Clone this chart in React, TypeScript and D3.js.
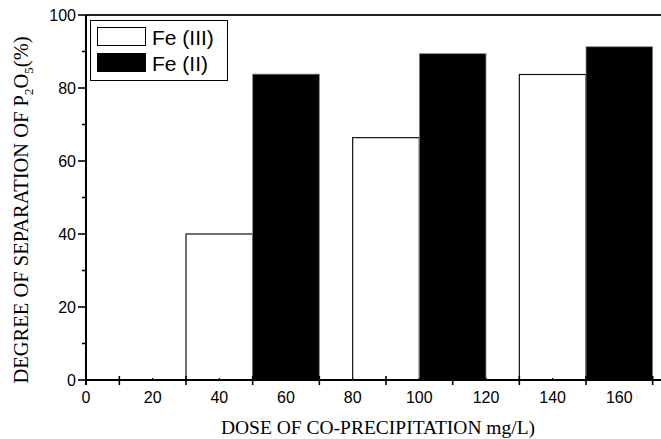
import React, { useRef, useEffect } from 'react';
import * as d3 from 'd3';

// Fe(III) bars (white) and Fe(II) bars (black), centred on these doses
const fe3Dose = [40, 90, 140];
const fe3Values = [40, 66.4, 83.7];
const fe2Dose = [60, 110, 160];
const fe2Values = [83.8, 89.4, 91.3];

const xLabels = [0, 20, 40, 60, 80, 100, 120, 140, 160];
const xMajor = [10, 30, 50, 70, 90, 110, 130, 150, 170];
const yLabels = [0, 20, 40, 60, 80, 100];
const yMinor = [10, 30, 50, 70, 90];

const legendItems = [
  { name: 'Fe (III)', fill: '#ffffff' },
  { name: 'Fe (II)', fill: '#000000' },
];

const BAR_W = 20;

function App() {
  const ref = useRef<SVGSVGElement>(null);

  useEffect(() => {
    draw();
  }, []);

  const draw = () => {
    const W = 661;
    const H = 439;
    const left = 86;
    const right = 661;
    const top = 15;
    const bottom = 380;

    const svg = d3.select(ref.current);
    svg.selectAll('*').remove();
    svg.attr('width', W).attr('height', H);

    const x = d3.scaleLinear().domain([0, 172.5]).range([left, right]);
    const y = d3.scaleLinear().domain([0, 100]).range([bottom, top]);

    const sans = 'Arial, "Liberation Sans", sans-serif';
    const serif = '"Times New Roman", "Liberation Serif", serif';

    // bars
    const bars = svg.append('g');
    bars.selectAll('.fe3')
      .data(fe3Dose)
      .enter().append('rect')
      .attr('x', d => x(d - BAR_W / 2))
      .attr('y', (d, i) => y(fe3Values[i]))
      .attr('width', x(BAR_W) - x(0))
      .attr('height', (d, i) => y(0) - y(fe3Values[i]))
      .attr('fill', '#fff')
      .attr('stroke', '#111')
      .attr('stroke-width', 1.2);

    bars.selectAll('.fe2')
      .data(fe2Dose)
      .enter().append('rect')
      .attr('x', d => x(d - BAR_W / 2))
      .attr('y', (d, i) => y(fe2Values[i]))
      .attr('width', x(BAR_W) - x(0))
      .attr('height', (d, i) => y(0) - y(fe2Values[i]))
      .attr('fill', '#000')
      .attr('stroke', '#888')
      .attr('stroke-width', 0.8);

    // frame lines
    svg.append('line')
      .attr('x1', left).attr('x2', right)
      .attr('y1', y(0)).attr('y2', y(0))
      .attr('stroke', '#000').attr('stroke-width', 2);
    svg.append('line')
      .attr('x1', left).attr('x2', right)
      .attr('y1', y(100)).attr('y2', y(100))
      .attr('stroke', '#222').attr('stroke-width', 2);
    svg.append('line')
      .attr('x1', left).attr('x2', left)
      .attr('y1', y(100)).attr('y2', y(0) + 5)
      .attr('stroke', '#000').attr('stroke-width', 2);

    // y ticks
    svg.selectAll('.ymaj')
      .data(yLabels)
      .enter().append('line')
      .attr('x1', left - 8).attr('x2', left)
      .attr('y1', d => y(d)).attr('y2', d => y(d))
      .attr('stroke', '#000').attr('stroke-width', 1.6);
    svg.selectAll('.ymin')
      .data(yMinor)
      .enter().append('line')
      .attr('x1', left - 4).attr('x2', left)
      .attr('y1', d => y(d)).attr('y2', d => y(d))
      .attr('stroke', '#000').attr('stroke-width', 1.6);
    svg.selectAll('.ylab')
      .data(yLabels)
      .enter().append('text')
      .attr('x', left - 10)
      .attr('y', d => y(d) + 6)
      .attr('text-anchor', 'end')
      .attr('font-family', sans)
      .attr('font-size', 16)
      .text(d => d);

    // x ticks
    svg.selectAll('.xmaj')
      .data(xMajor)
      .enter().append('line')
      .attr('x1', d => x(d)).attr('x2', d => x(d))
      .attr('y1', y(0) - 4).attr('y2', y(0) + 5)
      .attr('stroke', '#000').attr('stroke-width', 1.6);
    svg.selectAll('.xmin')
      .data(xLabels)
      .enter().append('line')
      .attr('x1', d => x(d)).attr('x2', d => x(d))
      .attr('y1', y(0) - 2).attr('y2', y(0))
      .attr('stroke', '#000').attr('stroke-width', 1.2);
    svg.selectAll('.xlab')
      .data(xLabels)
      .enter().append('text')
      .attr('x', d => x(d))
      .attr('y', y(0) + 23)
      .attr('text-anchor', 'middle')
      .attr('font-family', sans)
      .attr('font-size', 16)
      .text(d => d);

    // axis titles
    svg.append('text')
      .attr('x', 378)
      .attr('y', 434)
      .attr('text-anchor', 'middle')
      .attr('font-family', serif)
      .attr('font-size', 19.5)
      .text('DOSE OF CO-PRECIPITATION mg/L)');

    const yt = svg.append('text')
      .attr('transform', 'translate(28,210) rotate(-90)')
      .attr('text-anchor', 'middle')
      .attr('font-family', serif)
      .attr('font-size', 20.5);
    yt.append('tspan').text('DEGREE OF SEPARATION OF P');
    yt.append('tspan').attr('font-size', 13).attr('dy', 5).text('2');
    yt.append('tspan').attr('dy', -5).text('O');
    yt.append('tspan').attr('font-size', 13).attr('dy', 5).text('5');
    yt.append('tspan').attr('dy', -5).text('(%)');

    // legend
    const lg = svg.append('g');
    lg.append('rect')
      .attr('x', 90.5).attr('y', 20.5)
      .attr('width', 137).attr('height', 60)
      .attr('fill', '#fff')
      .attr('stroke', '#000').attr('stroke-width', 1);
    legendItems.forEach((it, i) => {
      lg.append('rect')
        .attr('x', 97.5).attr('y', 27.5 + i * 26)
        .attr('width', 48).attr('height', 18)
        .attr('fill', it.fill)
        .attr('stroke', '#000').attr('stroke-width', 1);
      lg.append('text')
        .attr('x', 152)
        .attr('y', 44.5 + i * 26)
        .attr('font-family', sans)
        .attr('font-size', 21)
        .text(it.name);
    });
  };

  return (
    <svg ref={ref} style={{ position: 'absolute', left: 0, top: 0 }}></svg>
  );
}

export default App;
